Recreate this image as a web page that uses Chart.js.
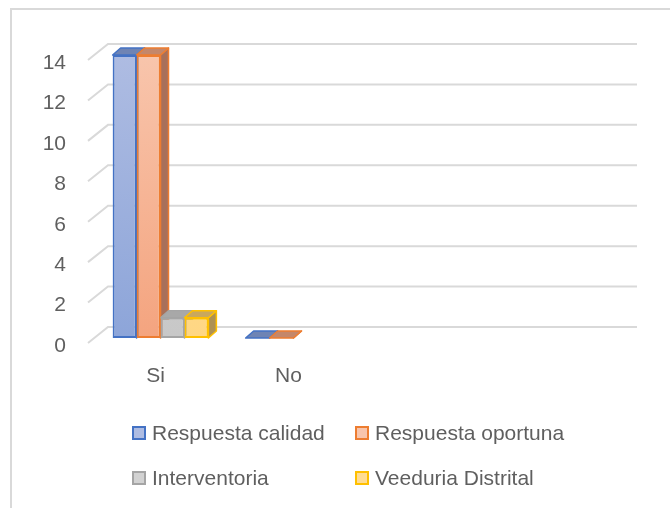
<!DOCTYPE html>
<html>
<head>
<meta charset="utf-8">
<script src="https://cdn.jsdelivr.net/npm/chart.js@4.4.0/dist/chart.umd.min.js"></script>
<style>
body { margin: 0; background: #fff; font-family: "Liberation Sans", Arial, sans-serif; }
#marco { position: absolute; left: 10px; top: 8px; width: 700px; height: 520px;
         border-left: 2px solid #D9D9D9; border-top: 2px solid #D9D9D9; }
#caja { position: absolute; left: 0; top: 0; width: 670px; height: 508px; }
#leyenda { position: absolute; left: 132px; top: 422px; display: grid;
           grid-template-columns: 223px auto; row-gap: 23px; color: #5F5F5F; font-size: 21px; }
#leyenda div { display: flex; align-items: center; height: 22px; white-space: nowrap; }
#leyenda span { display: inline-block; width: 10px; height: 10px; border: 2px solid; margin-right: 6px; }
</style>
</head>
<body>
<div id="marco"></div>
<div id="caja"><canvas id="grafico" width="670" height="508"></canvas></div>
<div id="leyenda"></div>
<script>
// categorias (las dos ultimas vacias, como en el original)
var categorias = ['Si', 'No', '', ''];

// valores de cada serie
var calidad = [14, 0, null, null];
var oportuna = [14, 0, null, null];
var interventoria = [1, null, null, null];
var veeduria = [1, null, null, null];

var nombres = ['Respuesta calidad', 'Respuesta oportuna', 'Interventoria', 'Veeduria Distrital'];
var ticksY = [0, 2, 4, 6, 8, 10, 12, 14];

// colores: borde, degradado arriba/abajo, cara superior, cara lateral
var colores = [
    {borde: '#4472C4', arriba: '#AEBCE2', abajo: '#8DA5D9', tapa: '#6F84B4', lado: '#5E73A0'},
    {borde: '#ED7D31', arriba: '#F8C5AC', abajo: '#F4A47F', tapa: '#C4876A', lado: '#A8705A'},
    {borde: '#A5A5A5', arriba: '#D2D2D2', abajo: '#C8C8C8', tapa: '#A8A8A8', lado: '#8F8F8F'},
    {borde: '#FFC000', arriba: '#FFDC94', abajo: '#FFD784', tapa: '#C9A85E', lado: '#AE9152'}
];

var series = [calidad, oportuna, interventoria, veeduria];
var fuente = {size: 21, family: '"Liberation Sans", Arial'};

function degradado(c) {
    return function(ctx) {
        var area = ctx.chart.chartArea;
        if (!area) return c.abajo;
        var g = ctx.chart.ctx.createLinearGradient(0, area.top, 0, area.bottom);
        g.addColorStop(0, c.arriba);
        g.addColorStop(1, c.abajo);
        return g;
    };
}

// fondo: lineas de la pared trasera y diagonales del piso lateral
var pared = {
    id: 'pared',
    beforeDatasetsDraw: function(chart) {
        var ctx = chart.ctx, area = chart.chartArea, y = chart.scales.y;
        ctx.save();
        ctx.strokeStyle = '#D9D9D9';
        ctx.lineWidth = 2;
        ticksY.forEach(function(v) {
            var py = y.getPixelForValue(v);
            ctx.beginPath();
            ctx.moveTo(area.left - 6, py + 5);
            ctx.lineTo(area.left + 14, py - 11);
            ctx.lineTo(area.right + 11, py - 11);
            ctx.stroke();
        });
        ctx.restore();

        // caras superior y lateral de cada barra
        var dx = 8, dy = -7;
        chart.data.datasets.forEach(function(ds, i) {
            var meta = chart.getDatasetMeta(i);
            var c = colores[i];
            meta.data.forEach(function(barra, j) {
                if (ds.data[j] === null) return;
                var p = barra.getProps(['x', 'y', 'base', 'width'], true);
                var izq = p.x - p.width / 2, der = p.x + p.width / 2;
                ctx.save();
                ctx.lineWidth = 1.5;
                ctx.strokeStyle = c.borde;
                ctx.lineJoin = 'round';
                // lateral
                ctx.beginPath();
                ctx.moveTo(der, p.y);
                ctx.lineTo(der + dx, p.y + dy);
                ctx.lineTo(der + dx, p.base + dy);
                ctx.lineTo(der, p.base);
                ctx.closePath();
                ctx.fillStyle = c.lado;
                ctx.fill();
                ctx.stroke();
                // tapa
                ctx.beginPath();
                ctx.moveTo(izq, p.y);
                ctx.lineTo(der, p.y);
                ctx.lineTo(der + dx, p.y + dy);
                ctx.lineTo(izq + dx, p.y + dy);
                ctx.closePath();
                ctx.fillStyle = c.tapa;
                ctx.fill();
                ctx.stroke();
                ctx.restore();
            });
        });
    }
};

var chart = new Chart(document.getElementById('grafico'), {
    type: 'bar',
    data: {
        labels: categorias,
        datasets: series.map(function(s, i) {
            return {
                label: nombres[i],
                data: s,
                backgroundColor: degradado(colores[i]),
                borderColor: colores[i].borde,
                borderWidth: 2,
                borderSkipped: false,
                categoryPercentage: 0.72,
                barPercentage: 1.0
            };
        })
    },
    options: {
        responsive: false,
        animation: false,
        layout: {padding: {top: 55, right: 44, left: 0, bottom: 0}},
        plugins: {legend: {display: false}, tooltip: {enabled: false}},
        scales: {
            x: {
                grid: {display: false},
                border: {display: false},
                ticks: {color: '#5F5F5F', font: fuente, padding: 18, labelOffset: -5},
                afterFit: function(s) { s.height = 170; }
            },
            y: {
                min: 0, max: 14,
                grid: {display: false},
                border: {display: false},
                ticks: {stepSize: 2, color: '#5F5F5F', font: fuente, padding: 20, labelOffset: 8},
                afterFit: function(s) { s.width = 94; }
            }
        }
    },
    plugins: [pared]
});

// leyenda en dos columnas
var ley = document.getElementById('leyenda');
nombres.forEach(function(n, i) {
    var d = document.createElement('div');
    d.innerHTML = '<span style="border-color:' + colores[i].borde + ';background:' + colores[i].arriba + '"></span>' + n;
    ley.appendChild(d);
});
</script>
</body>
</html>
